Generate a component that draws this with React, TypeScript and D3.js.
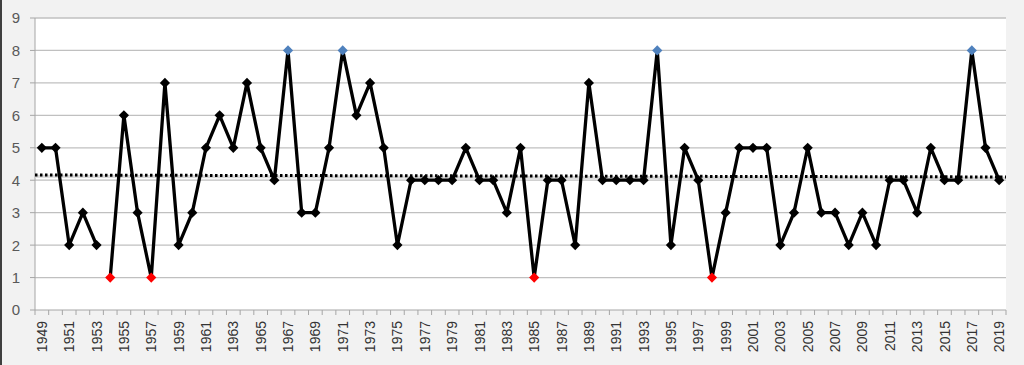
import * as d3 from "d3";

const years = d3.range(1949, 2020).map(String);
const values = [
  5, 5, 2, 3, 2, 1, 6, 3, 1, 7,
  2, 3, 5, 6, 5, 7, 5, 4, 8, 3,
  3, 5, 8, 6, 7, 5, 2, 4, 4, 4,
  4, 5, 4, 4, 3, 5, 1, 4, 4, 2,
  7, 4, 4, 4, 4, 8, 2, 5, 4, 1,
  3, 5, 5, 5, 2, 3, 5, 3, 3, 2,
  3, 2, 4, 4, 3, 5, 4, 4, 8, 5, 4,
];
// the line is broken before these years
const breaksBefore = ["1954"];
// linear trend, at the left and right edges of the plot
const trendStart = 4.16;
const trendEnd = 4.1;
const yTicks = d3.range(0, 10);

const width = 1024;
const height = 365;
const margin = { top: 18, right: 18, bottom: 55, left: 35 };

export default function App() {
  const x = d3
    .scaleBand<string>()
    .domain(years)
    .range([margin.left, width - margin.right])
    .padding(0);
  const y = d3.scaleLinear([0, 9], [height - margin.bottom, margin.top]);
  const cx = (yr: string) => (x(yr) as number) + x.bandwidth() / 2;

  const pts = years.map((yr, i) => ({ yr, v: values[i] }));

  // split into segments at the breaks
  const segments: { yr: string; v: number }[][] = [];
  pts.forEach((p) => {
    if (!segments.length || breaksBefore.includes(p.yr)) segments.push([]);
    segments[segments.length - 1].push(p);
  });

  const line = d3
    .line<{ yr: string; v: number }>()
    .x((d) => cx(d.yr))
    .y((d) => y(d.v));

  const x1 = width - margin.right;
  const vmax = d3.max(values)!;
  const vmin = d3.min(values)!;
  const diamond = d3.symbol(d3.symbolSquare, 52)()!;

  const plotBottom = height - margin.bottom;
  const tickEdges = years.map((yr) => x(yr) as number).concat([x1]);
  const font = "'Liberation Sans', Arial, sans-serif";

  return (
    <div style={{ position: "fixed", left: 0, top: 0 }}>
      <svg width={width} height={height} style={{ display: "block" }}>
        <rect width={width} height={height} fill="#f2f2f2" />
        <rect x={0} y={0} width={2} height={height} fill="#3f3f3f" />
        <rect
          x={margin.left}
          y={margin.top}
          width={x1 - margin.left}
          height={plotBottom - margin.top}
          fill="#ffffff"
        />
        {yTicks.map((t) => (
          <g key={t}>
            {t > 0 && (
              <line
                x1={margin.left}
                x2={x1}
                y1={y(t)}
                y2={y(t)}
                stroke="#c0c0c0"
                strokeWidth={1.3}
              />
            )}
            <line
              x1={margin.left - 5}
              x2={margin.left}
              y1={y(t)}
              y2={y(t)}
              stroke="#a6a6a6"
            />
            <text
              x={20}
              y={y(t)}
              dy="0.36em"
              textAnchor="end"
              fontFamily={font}
              fontSize={15}
              fill="#595959"
            >
              {t}
            </text>
          </g>
        ))}
        <line
          x1={margin.left}
          x2={margin.left}
          y1={margin.top}
          y2={plotBottom}
          stroke="#a6a6a6"
        />
        <line
          x1={margin.left}
          x2={x1}
          y1={plotBottom}
          y2={plotBottom}
          stroke="#a6a6a6"
        />
        {tickEdges.map((px, i) => (
          <line
            key={i}
            x1={px}
            x2={px}
            y1={plotBottom}
            y2={plotBottom + 5}
            stroke="#a6a6a6"
          />
        ))}
        {years
          .filter((_, i) => i % 2 === 0)
          .map((yr) => (
            <text
              key={yr}
              transform={`translate(${cx(yr)},${plotBottom + 11}) rotate(-90)`}
              dy="0.36em"
              textAnchor="end"
              fontFamily={font}
              fontSize={14}
              fill="#333333"
            >
              {yr}
            </text>
          ))}
        <line
          x1={margin.left}
          x2={x1}
          y1={y(trendStart) + 1.2}
          y2={y(trendEnd) + 1.2}
          stroke="#d9d9d9"
          strokeWidth={3}
        />
        <line
          x1={margin.left}
          x2={x1}
          y1={y(trendStart)}
          y2={y(trendEnd)}
          stroke="#000"
          strokeWidth={3}
          strokeDasharray="2.5,2.5"
        />
        {segments.map((seg, i) => (
          <path
            key={i}
            d={line(seg) as string}
            fill="none"
            stroke="#000"
            strokeWidth={3.3}
            strokeLinejoin="round"
          />
        ))}
        {pts.map((p) => (
          <path
            key={p.yr}
            d={diamond}
            transform={`translate(${cx(p.yr)},${y(p.v)}) rotate(45)`}
            fill={p.v === vmax ? "#4f81bd" : p.v === vmin ? "#ff0000" : "#000"}
          />
        ))}
      </svg>
    </div>
  );
}
